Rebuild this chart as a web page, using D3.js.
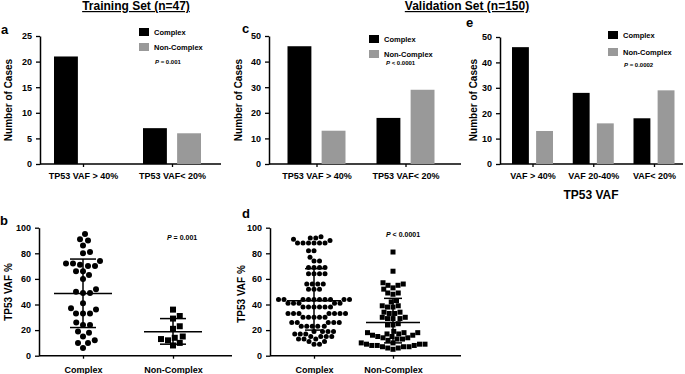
<!DOCTYPE html>
<meta charset="utf-8">
<script src="https://d3js.org/d3.v7.min.js"></script>
<style>
  body { margin: 0; background: #fff; }
  svg text { font-family: "Liberation Sans", Arial, sans-serif; font-weight: bold; fill: #000; }
</style>
<body>
<svg id="chart" width="685" height="374"></svg>
<script>
// ---- data ----
var groups = ["Complex", "Non-Complex"];
var colors = ["#000000", "#999999"];

// panel a (training set)
var trainCats = ["TP53 VAF > 40%", "TP53 VAF< 20%"];
var trainComplex = [21, 7];
var trainNonComplex = [0, 6];

// panel c (validation set, two bins)
var valCats2 = ["TP53 VAF > 40%", "TP53 VAF< 20%"];
var valComplex2 = [46, 18];
var valNonComplex2 = [13, 29];

// panel e (validation set, three bins)
var valCats3 = ["VAF > 40%", "VAF 20-40%", "VAF< 20%"];
var valComplex3 = [46, 28, 18];
var valNonComplex3 = [13, 16, 29];

// panel b: individual VAF values, training set
var trainVafComplex = [95, 91, 90, 86, 81, 80, 74, 72, 72, 71, 70, 70, 66, 66, 63, 60, 52, 50, 49, 49, 41,
  37, 36, 33, 33, 33, 26, 24, 24, 19, 18, 15, 12, 10, 10, 6];
var trainVafNonComplex = [36, 31, 29, 23, 21, 15, 14, 13, 12, 10, 8];
var trainMedian = [48.5, 18.8];
var trainQ1 = [22, 9];
var trainQ3 = [75.5, 29];

// panel d: individual VAF values, validation set
var valVafComplex = [93, 92, 92, 91, 90, 88, 88, 88, 88, 88, 88, 82, 82, 77, 74, 74, 69, 69, 69, 69,
  64, 64, 64, 64, 56, 56, 56, 56, 52, 52, 52, 44, 44, 44, 44, 44, 44, 44, 44, 44, 44, 41, 41, 41, 41, 41,
  38, 38, 38, 38, 38, 38, 33, 33, 33, 33, 33, 33, 33, 30, 30, 30, 30, 30, 26, 26, 26, 26, 26,
  23, 23, 23, 23, 23, 19, 19, 19, 19, 17, 17, 17, 15, 15, 15, 15, 13, 13, 13, 11, 11, 9, 9];
var valVafNonComplex = [81, 66, 57, 56, 55, 55, 53, 52, 49, 49, 48, 43, 42,
  39, 39, 38, 38, 34, 34, 33, 33, 30, 30, 29, 29, 29, 25, 24, 24,
  19, 18, 18, 18, 17, 17, 16, 16, 15, 15, 14, 14, 13, 13, 12,
  10, 10, 9, 9, 9, 8, 8, 8, 7, 7, 7, 6, 6, 5];
var valMedian = [43, 26];
var valQ1 = [20, 10];
var valQ3 = [68, 44.8];

var ticksA = [0, 5, 10, 15, 20, 25];
var ticksCE = [0, 10, 20, 30, 40, 50];
var ticksBD = [0, 20, 40, 60, 80, 100];

var svg = d3.select("#chart");

function txt(x, y, s, size, anchor) {
  return svg.append("text").attr("x", x).attr("y", y)
    .attr("font-size", size).attr("text-anchor", anchor || "start").text(s);
}
function pText(x, y, rest, size) {
  var t = svg.append("text").attr("x", x).attr("y", y).attr("font-size", size);
  t.append("tspan").attr("font-style", "italic").text("P");
  t.append("tspan").text(rest);
}
function yTitle(x, y, s) {
  svg.append("text").attr("transform", "translate(" + x + "," + y + ") rotate(-90)")
    .attr("text-anchor", "middle").attr("font-size", 10).text(s);
}

function styleAxis(g) {
  g.select(".domain").attr("stroke", "#000").attr("stroke-width", 1.5);
  g.selectAll(".tick line").attr("stroke", "#000").attr("stroke-width", 1.3);
  g.selectAll(".tick text").attr("font-size", 9).attr("font-family", null);
}

function frame(p, y) {
  var ga = svg.append("g").attr("transform", "translate(" + p.x0 + ",0)")
    .call(d3.axisLeft(y).tickValues(p.ticks).tickSize(4).tickSizeOuter(0).tickPadding(4));
  styleAxis(ga);
  svg.append("line").attr("x1", p.x0).attr("x2", p.x1).attr("y1", y(0)).attr("y2", y(0))
    .attr("stroke", "#000").attr("stroke-width", 1.5);
  var x = d3.scalePoint().domain(p.cats).range(p.centers);
  var gx = svg.append("g").attr("transform", "translate(0," + y(0) + ")")
    .call(d3.axisBottom(x).tickSize(3).tickPadding(p.labPad));
  gx.select(".domain").remove();
  styleAxis(gx);
  return x;
}

function barPanel(p) {
  var y = d3.scaleLinear().domain([0, p.yMax]).range([p.yBot, p.yTop]);
  var x = frame(p, y);
  var inner = d3.scaleBand().domain(groups).range([-p.half, p.half]).paddingInner(p.pad);
  var rows = [];
  p.cats.forEach(function(c, i) {
    groups.forEach(function(s, j) { rows.push({c: c, s: s, j: j, v: p.series[j][i]}); });
  });
  svg.append("g").selectAll("rect").data(rows).enter().append("rect")
    .attr("x", function(d) { return x(d.c) + inner(d.s); })
    .attr("y", function(d) { return y(d.v); })
    .attr("width", inner.bandwidth())
    .attr("height", function(d) { return y(0) - y(d.v); })
    .attr("fill", function(d) { return colors[d.j]; });
  // legend
  groups.forEach(function(s, j) {
    svg.append("rect").attr("x", p.lx).attr("y", p.ly[j]).attr("width", 10).attr("height", 8)
      .attr("fill", colors[j]);
    txt(p.lx + 15, p.ly[j] + 7, s, 7.5);
  });
}

// beeswarm style placement: lowest values first, nearest free offset
function dodge(values, y, sep) {
  var pts = values.map(function(v) { return {v: v, y: y(v)}; })
    .sort(function(a, b) { return a.v - b.v; });
  var placed = [];
  pts.forEach(function(p, i) {
    var sgn = i % 2 ? -1 : 1;
    for (var k = 0; k < 2000; k++) {
      var off = (k % 2 ? -sgn : sgn) * Math.ceil(k / 2) * 0.25;
      var ok = placed.every(function(q) {
        var dx = q.dx - off, dy = q.y - p.y;
        return dx * dx + dy * dy >= sep * sep;
      });
      if (ok) { p.dx = off; break; }
    }
    placed.push(p);
  });
  return pts;
}

function dotPanel(p) {
  var y = d3.scaleLinear().domain([0, 100]).range([p.yBot, p.yTop]);
  var x = frame(p, y);
  groups.forEach(function(s, j) {
    var pts = dodge(p.vals[j], y, p.sep);
    var cx = x(s);
    var g = svg.append("g");
    if (j === 0) {
      g.selectAll("circle").data(pts).enter().append("circle")
        .attr("cx", function(d) { return cx + d.dx; })
        .attr("cy", function(d) { return d.y; })
        .attr("r", p.size / 2).attr("fill", "#000");
    } else {
      g.selectAll("rect").data(pts).enter().append("rect")
        .attr("x", function(d) { return cx + d.dx - p.size / 2; })
        .attr("y", function(d) { return d.y - p.size / 2; })
        .attr("width", p.size).attr("height", p.size).attr("fill", "#000");
    }
    // median and interquartile bars
    var ln = function(x1, x2, y1, y2) {
      svg.append("line").attr("x1", x1).attr("x2", x2).attr("y1", y1).attr("y2", y2)
        .attr("stroke", "#000").attr("stroke-width", 1.5);
    };
    ln(cx - p.medHalf, cx + p.medHalf, y(p.med[j]), y(p.med[j]));
    ln(cx, cx, y(p.q1[j]), y(p.q3[j]));
    ln(cx - p.capHalf, cx + p.capHalf, y(p.q1[j]), y(p.q1[j]));
    ln(cx - p.capHalf, cx + p.capHalf, y(p.q3[j]), y(p.q3[j]));
  });
}

// ---- titles ----
txt(136, 10, "Training Set (n=47)", 12, "middle").attr("text-decoration", "underline");
txt(467, 10, "Validation Set (n=150)", 12, "middle").attr("text-decoration", "underline");

// ---- panel a ----
barPanel({x0: 40, x1: 221, yTop: 36, yBot: 164, yMax: 25, ticks: ticksA,
  cats: trainCats, centers: [83, 172], half: 29, pad: 0.3, labPad: 6,
  series: [trainComplex, trainNonComplex], lx: 139, ly: [28, 43]});
txt(1, 34, "a", 13);
yTitle(11.5, 100, "Number of Cases");
pText(155, 64, " = 0.001", 6);

// ---- panel c ----
barPanel({x0: 269, x1: 461, yTop: 36, yBot: 164, yMax: 50, ticks: ticksCE,
  cats: valCats2, centers: [316.5, 405.5], half: 29, pad: 0.3, labPad: 6,
  series: [valComplex2, valNonComplex2], lx: 369, ly: [35, 50]});
txt(242, 33, "c", 13);
yTitle(242, 100, "Number of Cases");
pText(386, 65, " < 0.0001", 6);

// ---- panel e ----
barPanel({x0: 500, x1: 683, yTop: 37, yBot: 164, yMax: 50, ticks: ticksCE,
  cats: valCats3, centers: [532.5, 654], half: 20.5, pad: 0.3, labPad: 6,
  series: [valComplex3, valNonComplex3], lx: 608, ly: [31, 48]});
txt(466, 27, "e", 13);
yTitle(477, 100, "Number of Cases");
pText(624, 67, " = 0.0002", 6);
txt(591, 199, "TP53 VAF", 12, "middle");

// ---- panel b ----
dotPanel({x0: 39, x1: 232, yTop: 227.7, yBot: 355.7, ticks: ticksBD,
  cats: groups, centers: [83, 173], labPad: 8, vals: [trainVafComplex, trainVafNonComplex],
  sep: 7, size: 6, med: trainMedian, q1: trainQ1, q3: trainQ3, medHalf: 29, capHalf: 13});
txt(0, 225, "b", 13);
yTitle(11.5, 292, "TP53 VAF %");
pText(167, 240, " = 0.001", 7);

// ---- panel d ----
dotPanel({x0: 270, x1: 461, yTop: 227.7, yBot: 355.7, ticks: ticksBD,
  cats: groups, centers: [314, 393], labPad: 8, vals: [valVafComplex, valVafNonComplex],
  sep: 5.4, size: 5, med: valMedian, q1: valQ1, q3: valQ3, medHalf: 27, capHalf: 9});
txt(242, 218, "d", 13);
yTitle(245, 294, "TP53 VAF %");
pText(386, 237, " < 0.0001", 7);
</script>
</body>
